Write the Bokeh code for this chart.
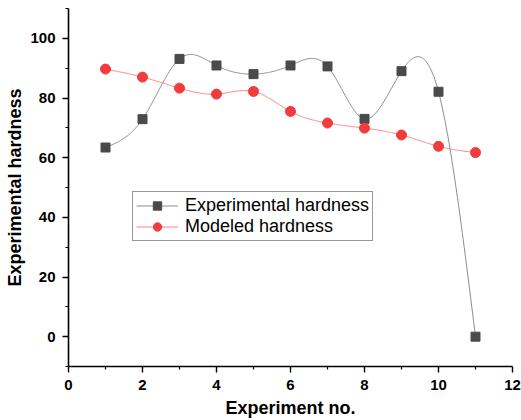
import numpy as np
from bokeh.plotting import figure
from bokeh.models import Range1d, FixedTicker, Legend, LegendItem
from bokeh.embed import file_html
from bokeh.resources import INLINE

experiment_no = [1, 2, 3, 4, 5, 6, 7, 8, 9, 10, 11]
experimental_hardness = [63.4, 72.9, 93.1, 90.9, 88.0, 90.9, 90.6, 73.0, 89.0, 82.1, 0.0]
modeled_hardness = [89.7, 87.0, 83.3, 81.3, 82.2, 75.5, 71.6, 69.9, 67.6, 63.8, 61.7]
x_ticks = [0, 2, 4, 6, 8, 10, 12]
y_ticks = [0, 20, 40, 60, 80, 100]


def natural_spline(xs, ys, per=40):
    x = np.asarray(xs, float)
    y = np.asarray(ys, float)
    n = len(x)
    h = np.diff(x)
    A = np.zeros((n, n))
    b = np.zeros(n)
    A[0, 0] = 1
    A[-1, -1] = 1
    for i in range(1, n - 1):
        A[i, i - 1] = h[i - 1]
        A[i, i] = 2 * (h[i - 1] + h[i])
        A[i, i + 1] = h[i]
        b[i] = 6 * ((y[i + 1] - y[i]) / h[i] - (y[i] - y[i - 1]) / h[i - 1])
    M = np.linalg.solve(A, b)
    out_x, out_y = [], []
    for i in range(n - 1):
        t = np.linspace(x[i], x[i + 1], per, endpoint=(i == n - 2))
        a = (x[i + 1] - t) / h[i]
        c = (t - x[i]) / h[i]
        s = (a * y[i] + c * y[i + 1]
             + ((a ** 3 - a) * M[i] + (c ** 3 - c) * M[i + 1]) * h[i] ** 2 / 6)
        out_x.extend(t)
        out_y.extend(s)
    return out_x, out_y


FONT = "Liberation Sans"

p = figure(width=521, height=420, output_backend="svg", toolbar_location=None,
           x_range=Range1d(0, 12), y_range=Range1d(-10, 110),
           min_border_left=68, min_border_right=9, min_border_top=8, min_border_bottom=54)
p.outline_line_color = None
p.grid.visible = False
p.background_fill_color = "white"
p.border_fill_color = "white"

ex_sx, ex_sy = natural_spline(experiment_no, experimental_hardness)
mo_sx, mo_sy = natural_spline(experiment_no, modeled_hardness)

l1 = p.line(ex_sx, ex_sy, line_color="#8c8c8c", line_width=1)
s1 = p.scatter(experiment_no, experimental_hardness, marker="square", size=9,
               fill_color="#4a4a4a", line_color="#4a4a4a")
l2 = p.line(mo_sx, mo_sy, line_color="#ff8080", line_width=1)
s2 = p.scatter(experiment_no, modeled_hardness, marker="circle", size=10,
               fill_color="#f03c3c", line_color="#f03c3c")

for ax in (p.xaxis[0], p.yaxis[0]):
    ax.axis_line_width = 1.6
    ax.axis_line_color = "black"
    ax.major_tick_line_color = "black"
    ax.minor_tick_line_color = "black"
    ax.major_tick_line_width = 1.4
    ax.minor_tick_line_width = 1.2
    ax.major_tick_out = 6
    ax.major_tick_in = 0
    ax.minor_tick_out = 3
    ax.minor_tick_in = 0
    ax.major_label_text_font = FONT
    ax.major_label_text_font_style = "bold"
    ax.major_label_text_font_size = "15px"
    ax.major_label_text_color = "black"
    ax.axis_label_text_font = FONT
    ax.axis_label_text_font_style = "bold"
    ax.axis_label_text_font_size = "18px"
    ax.axis_label_text_color = "black"

p.xaxis[0].ticker = FixedTicker(ticks=x_ticks, minor_ticks=[1, 3, 5, 7, 9, 11])
p.yaxis[0].ticker = FixedTicker(ticks=y_ticks, minor_ticks=[-10, 10, 30, 50, 70, 90, 110])
p.xaxis[0].axis_label = "Experiment no."
p.yaxis[0].axis_label = "Experimental hardness"
p.xaxis[0].axis_label_standoff = 5
p.yaxis[0].axis_label_standoff = 2
p.xaxis[0].major_label_standoff = 7
p.yaxis[0].major_label_standoff = 7

legend = Legend(items=[LegendItem(label="Experimental hardness", renderers=[l1, s1]),
                       LegendItem(label="Modeled hardness", renderers=[l2, s2])],
                location=(64, 125))
legend.border_line_color = "#333333"
legend.border_line_width = 1
legend.padding = 3
legend.spacing = 0
legend.margin = 0
legend.glyph_width = 42
legend.glyph_height = 21
legend.label_standoff = 7
legend.label_text_font = FONT
legend.label_text_font_size = "18px"
legend.label_text_color = "black"
legend.label_height = 21
p.add_layout(legend)

open("out.html", "w").write(file_html(p, INLINE))
